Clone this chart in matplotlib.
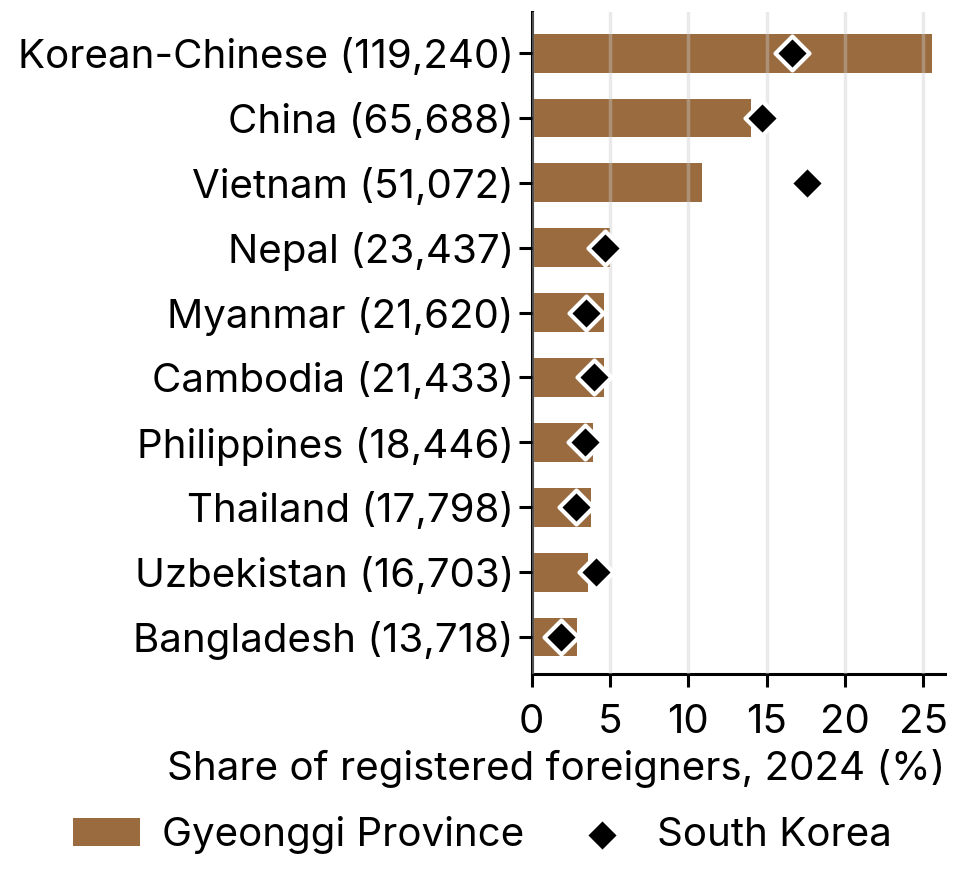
import matplotlib.pyplot as plt

countries = ["Korean-Chinese (119,240)", "China (65,688)", "Vietnam (51,072)",
             "Nepal (23,437)", "Myanmar (21,620)", "Cambodia (21,433)",
             "Philippines (18,446)", "Thailand (17,798)", "Uzbekistan (16,703)",
             "Bangladesh (13,718)"]
gyeonggi = [25.6, 14.0, 10.9, 5.0, 4.6, 4.6, 3.9, 3.8, 3.6, 2.9]
south_korea = [16.6, 14.7, 17.6, 4.7, 3.5, 4.0, 3.4, 2.8, 4.1, 1.9]

plt.rcParams['font.family'] = ['Inter', 'DejaVu Sans']
plt.rcParams['font.size'] = 29

fig = plt.figure(figsize=(9.62, 8.73), dpi=100)
ax = fig.add_axes([0.5527, 0.228, 0.4296, 0.758])

y = list(range(len(countries)))
bars = ax.barh(y, gyeonggi, height=0.6, color="#996b3f", label="Gyeonggi Province", zorder=1)
dots = ax.scatter(south_korea, y, marker="D", s=300, color="black", edgecolor="white",
                  linewidth=3, label="South Korea", zorder=3)

ax.set_yticks(y)
ax.set_yticklabels(countries)
ax.set_ylim(9.57, -0.63)
ax.set_xlim(0, 26.4)
ax.set_xticks([0, 5, 10, 15, 20, 25])
ax.grid(axis="x", color="#cccccc", alpha=0.4, linewidth=2.5, zorder=2)
ax.set_axisbelow(False)
for s in ["top", "right"]:
    ax.spines[s].set_visible(False)
for s in ["left", "bottom"]:
    ax.spines[s].set_linewidth(2.2)
ax.tick_params(width=2.2, length=9.4)
ax.tick_params(axis="y", pad=3.4)
ax.tick_params(axis="x", pad=12)
ax.set_xlabel("Share of registered foreigners, 2024 (%)", loc="right", labelpad=6)

fig.legend([bars, dots], ["Gyeonggi Province", "South Korea"], loc="center",
           bbox_to_anchor=(0.5016, 0.0435), ncol=2, frameon=False, handletextpad=0.55,
           handlelength=1.65, columnspacing=1.1, markerscale=1.0)

fig.savefig("out.png", dpi=100)
